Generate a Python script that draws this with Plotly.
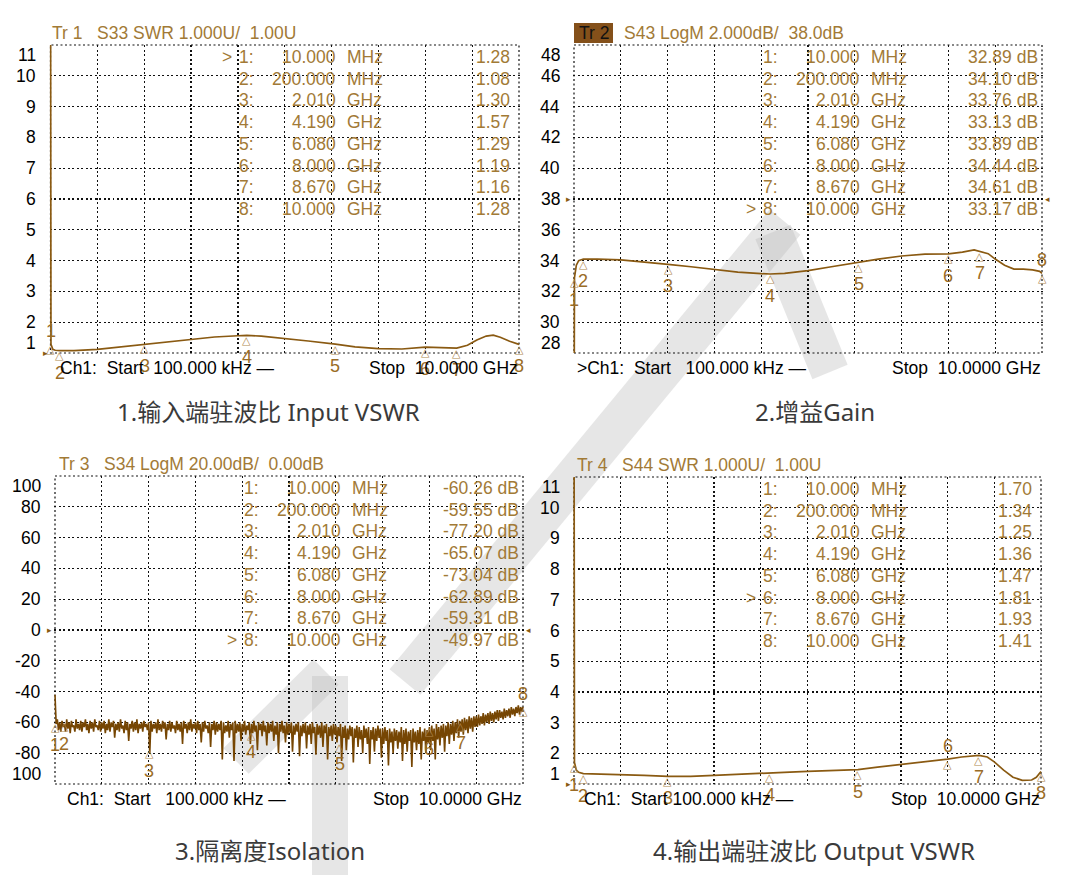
import numpy as np
import plotly.graph_objects as go

W, H = 1066, 875

# ---------------- data ----------------
marker_freq_ghz = [0.01, 0.2, 2.01, 4.19, 6.08, 8.0, 8.67, 10.0]
marker_freq_text = ["10.000", "200.000", "2.010", "4.190", "6.080", "8.000", "8.670", "10.000"]
marker_unit_text = ["MHz", "MHz", "GHz", "GHz", "GHz", "GHz", "GHz", "GHz"]

in_vswr_mk = [1.28, 1.08, 1.30, 1.57, 1.29, 1.19, 1.16, 1.28]
gain_mk = [32.89, 34.10, 33.76, 33.13, 33.89, 34.44, 34.61, 33.17]
iso_mk = [-60.26, -59.55, -77.20, -65.07, -73.04, -62.89, -59.31, -49.97]
out_vswr_mk = [1.70, 1.34, 1.25, 1.36, 1.47, 1.81, 1.93, 1.41]

in_vswr_freq = [0.0001, 0.005, 0.01, 0.05, 0.1, 0.2, 0.5, 1.0, 1.5, 2.01, 2.5, 3.0, 3.5, 4.0,
                4.19, 4.5, 5.0, 5.5, 6.08, 6.5, 7.0, 7.5, 8.0, 8.3, 8.67, 8.9, 9.1, 9.3,
                9.45, 9.6, 9.8, 10.0]
in_vswr = [15.0, 2.2, 1.28, 1.12, 1.09, 1.08, 1.08, 1.12, 1.20, 1.30, 1.38, 1.46, 1.52, 1.56,
           1.57, 1.55, 1.48, 1.39, 1.29, 1.20, 1.14, 1.13, 1.19, 1.18, 1.16, 1.25, 1.42, 1.55,
           1.58, 1.51, 1.38, 1.28]

gain_freq = [0.0001, 0.003, 0.006, 0.01, 0.05, 0.1, 0.2, 0.5, 1.0, 1.5, 2.01, 2.5, 3.0, 3.5,
             4.0, 4.19, 4.5, 5.0, 5.5, 6.08, 6.5, 7.0, 7.5, 8.0, 8.3, 8.55, 8.67, 8.85, 9.0,
             9.2, 9.4, 9.6, 9.8, 9.95, 10.0]
gain = [20.0, 30.0, 32.3, 32.89, 33.7, 34.0, 34.10, 34.10, 34.05, 33.93, 33.76, 33.60, 33.42,
        33.25, 33.15, 33.13, 33.17, 33.35, 33.60, 33.89, 34.10, 34.30, 34.42, 34.44, 34.55,
        34.70, 34.61, 34.45, 34.10, 33.70, 33.45, 33.45, 33.40, 33.30, 33.17]

# isolation sweep: 401 points, 100 kHz .. 10 GHz
iso_freq = np.linspace(0.0001, 10.0, 401)
iso = [
    # 0-1 GHz
    -42, -61, -58, -65, -60, -66, -59, -63, -61, -66, -58, -64, -60, -67, -59, -63, -62, -66, -58, -64,
    -61, -65, -59, -66, -60, -63, -58, -65, -61, -67, -59, -64, -60, -66, -58, -63, -62, -65, -59, -66,
    # 1-2 GHz
    -60, -64, -59, -67, -61, -65, -58, -66, -60, -63, -59, -70, -61, -65, -60, -66, -58, -64, -62, -67,
    -59, -65, -60, -72, -61, -64, -59, -66, -60, -65, -58, -67, -61, -64, -60, -66, -59, -63, -61, -65,
    # 2-3 GHz
    -60, -80, -59, -66, -61, -64, -60, -67, -58, -65, -61, -66, -59, -64, -60, -71, -61, -65, -59, -66,
    -60, -64, -62, -67, -59, -65, -61, -66, -60, -74, -59, -64, -61, -67, -60, -65, -58, -66, -61, -64,
    # 3-4 GHz
    -60, -67, -59, -65, -61, -73, -60, -66, -59, -64, -62, -67, -60, -76, -61, -65, -59, -68, -60, -66,
    -61, -65, -59, -84, -60, -67, -62, -66, -59, -70, -61, -65, -60, -85, -59, -67, -61, -66, -60, -72,
    # 4-5 GHz
    -61, -66, -59, -68, -62, -65, -60, -74, -61, -67, -59, -66, -62, -78, -60, -65, -61, -69, -59, -66,
    -62, -75, -60, -67, -61, -66, -59, -72, -62, -68, -60, -80, -61, -66, -59, -67, -62, -73, -60, -68,
    # 5-6 GHz
    -61, -67, -60, -79, -62, -68, -61, -66, -60, -82, -62, -69, -61, -67, -60, -77, -62, -68, -61, -74,
    -60, -67, -63, -81, -61, -68, -62, -70, -60, -76, -62, -67, -61, -84, -63, -69, -62, -72, -61, -68,
    # 6-7 GHz
    -62, -73, -63, -69, -61, -85, -63, -70, -62, -78, -64, -71, -62, -69, -63, -86, -64, -70, -62, -76,
    -63, -71, -65, -80, -62, -70, -64, -74, -63, -87, -65, -71, -63, -79, -64, -72, -62, -70, -64, -83,
    # 7-8 GHz
    -64, -74, -63, -72, -65, -88, -64, -73, -66, -80, -64, -72, -65, -77, -66, -73, -63, -85, -65, -74,
    -64, -79, -66, -72, -65, -89, -64, -73, -66, -78, -65, -74, -63, -84, -66, -72, -64, -80, -65, -73,
    # 8-9 GHz
    -63, -78, -62, -72, -64, -84, -61, -71, -63, -75, -62, -70, -61, -79, -62, -69, -60, -74, -61, -68,
    -59, -72, -60, -67, -58, -70, -59, -66, -58, -68, -57, -65, -58, -67, -56, -64, -57, -66, -56, -63,
    # 9-10 GHz
    -56, -63, -55, -62, -56, -61, -54, -62, -55, -60, -54, -61, -53, -59, -54, -60, -53, -58, -52, -59,
    -52, -57, -53, -58, -51, -57, -52, -56, -51, -57, -50, -55, -51, -56, -50, -54, -49, -55, -50, -53,
    -50,
]

out_vswr_freq = [0.0001, 0.004, 0.01, 0.05, 0.1, 0.2, 0.5, 1.0, 1.5, 2.01, 2.5, 3.0, 3.5, 4.19,
                 4.5, 5.0, 5.5, 6.08, 6.5, 7.0, 7.5, 8.0, 8.3, 8.67, 8.85, 9.0, 9.2, 9.4, 9.6,
                 9.8, 9.9, 10.0]
out_vswr = [15.0, 3.0, 1.70, 1.45, 1.38, 1.34, 1.33, 1.31, 1.28, 1.25, 1.25, 1.28, 1.32, 1.36,
            1.38, 1.41, 1.43, 1.47, 1.55, 1.63, 1.72, 1.81, 1.88, 1.93, 1.88, 1.72, 1.45, 1.22,
            1.12, 1.13, 1.22, 1.41]

swr_tick_text = ["11", "10", "9", "8", "7", "6", "5", "4", "3", "2", "1"]
gain_tick_text = ["48", "46", "44", "42", "40", "38", "36", "34", "32", "30", "28"]
iso_tick_text = ["100", "80", "60", "40", "20", "0", "-20", "-40", "-60", "-80", "100"]

headers = ["Tr 1   S33 SWR 1.000U/  1.00U", "S43 LogM 2.000dB/  38.0dB",
           "Tr 3   S34 LogM 20.00dB/  0.00dB", "Tr 4   S44 SWR 1.000U/  1.00U"]
captions = ["1.输入端驻波比 Input VSWR", "2.增益Gain", "3.隔离度Isolation", "4.输出端驻波比 Output VSWR"]
start_text = ["Ch1:  Start  100.000 kHz —", ">Ch1:  Start   100.000 kHz —",
              "Ch1:  Start   100.000 kHz —", "Ch1:  Start 100.000 kHz —"]
stop_text = "Stop  10.0000 GHz"

# ---------------- styling / layout ----------------
VNA_FONT = "Liberation Sans, Arial, sans-serif"
CJK_FONT = "Noto Sans, Noto Sans CJK SC, sans-serif"
TRACE = "#8a5a12"
TRACE_ISO = "#764603"
TXT = "#a27a36"
TRI = "#b08850"
GRID = "#111111"
DOT = "2px,2.5px"
FS = 17.5


def nb(s):
    return s.replace(" ", "\u00a0")


def px(x):
    return x / W


def py(y):
    return 1 - y / H


panels = [
    dict(box=(50.5, 45, 519, 353), yr=(1, 11), ticks=swr_tick_text, f=in_vswr_freq, v=in_vswr,
         mk=in_vswr_mk, db=False, color=TRACE, active=0, above=[0], hdr_x=50,
         start_x=58, cap=(268, 411), ref="bottom", refr=False),
    dict(box=(574, 45, 1042, 353), yr=(28, 48), ticks=gain_tick_text, f=gain_freq, v=gain,
         mk=gain_mk, db=True, color=TRACE, active=7, above=[7], hdr_x=622,
         start_x=575, cap=(815, 411), ref=5, refr=True),
    dict(box=(55, 476, 523, 784), yr=(-100, 100), ticks=iso_tick_text, f=iso_freq, v=iso,
         mk=iso_mk, db=True, color=TRACE_ISO, active=7, above=[7], hdr_x=57,
         start_x=65, cap=(270, 850), ref=5, refr=True),
    dict(box=(574, 477, 1041, 784), yr=(1, 11), ticks=swr_tick_text, f=out_vswr_freq, v=out_vswr,
         mk=out_vswr_mk, db=False, color=TRACE, active=5, above=[5], hdr_x=575,
         start_x=582, cap=(814, 850), ref="bottom", refr=False),
]

fig = go.Figure()
shapes = []
ann = []

# faint watermark strokes
wm = "rgba(190,190,190,0.38)"
for (x0, y0, x1, y1, w) in [(785, 222, 405, 682, 40), (773, 232, 830, 372, 38),
                            (330, 676, 330, 875, 36), (236, 761, 326, 672, 36)]:
    shapes.append(dict(type="line", xref="paper", yref="paper", x0=px(x0), y0=py(y0),
                       x1=px(x1), y1=py(y1), line=dict(color=wm, width=w), layer="below"))

for i, p in enumerate(panels, start=1):
    L, T, R, B = p["box"]
    xa = "x" if i == 1 else f"x{i}"
    ya = "y" if i == 1 else f"y{i}"
    pad = 10.0 / (R - L)
    y0, y1 = p["yr"]
    step = (y1 - y0) / 10.0
    fig.layout[("xaxis" if i == 1 else f"xaxis{i}")] = dict(
        domain=[(L - 1) / W, (R + 1) / W], range=[-pad, 10 + pad], anchor=ya,
        tickvals=list(range(1, 10)), showticklabels=False, ticks="", showgrid=True,
        gridcolor=GRID, griddash=DOT, gridwidth=1.2, zeroline=False, showline=False,
        fixedrange=True)
    fig.layout[("yaxis" if i == 1 else f"yaxis{i}")] = dict(
        domain=[py(B), py(T)], range=[y0, y1], anchor=xa,
        tickvals=[y0 + step * k for k in range(1, 10)], showticklabels=False, ticks="",
        showgrid=True, gridcolor=GRID, griddash=DOT, gridwidth=1.2, zeroline=False,
        showline=False, fixedrange=True)

    # frame
    shapes.append(dict(type="rect", xref="paper", yref="paper", x0=px(L), x1=px(R),
                       y0=py(B), y1=py(T), line=dict(color=GRID, width=1.2, dash=DOT),
                       fillcolor="rgba(0,0,0,0)", layer="below"))

    # trace
    fig.add_trace(go.Scatter(x=list(p["f"]), y=p["v"], mode="lines",
                             line=dict(color=p["color"], width=1.7 if i != 3 else 1.6),
                             xaxis=xa, yaxis=ya, hoverinfo="skip", showlegend=False))

    # tick labels
    for k, t in enumerate(p["ticks"]):
        yy = T + k * (B - T) / 10.0
        if k == 0:
            yy += 10
        elif k == 10:
            yy -= 10
        ann.append(dict(text=t, x=px(L - 12.5), y=py(yy), xref="paper", yref="paper",
                        xanchor="right", yanchor="middle", showarrow=False,
                        font=dict(family=VNA_FONT, size=FS, color="#000000")))

    # header
    ann.append(dict(text=nb(headers[i - 1]), x=px(p["hdr_x"]), y=py(T - 12), xref="paper",
                    yref="paper", xanchor="left", yanchor="middle", showarrow=False,
                    font=dict(family=VNA_FONT, size=FS, color=TXT)))

    # marker table
    for r in range(8):
        yy = T + 12 + r * 21.7
        val = f"{p['mk'][r]:.2f}" + (" dB" if p["db"] else "")
        vr = R - (2 if p["db"] else 7)
        cells = [(f"{r + 1}:", L + 186.5, "left"), (marker_freq_text[r], L + 287.5, "right"),
                 (marker_unit_text[r], L + 294.5, "left"), (val, vr, "right")]
        if r == p["active"]:
            cells.append((">", L + 184, "right"))
        for txt, xx, anc in cells:
            ann.append(dict(text=nb(txt), x=px(xx), y=py(yy), xref="paper", yref="paper",
                            xanchor=anc, yanchor="middle", showarrow=False,
                            font=dict(family=VNA_FONT, size=FS, color=TXT)))

    # markers on trace
    for r in range(8):
        ann.append(dict(text="△", x=marker_freq_ghz[r], y=p["mk"][r], xref=xa, yref=ya,
                        yshift=-5, showarrow=False, xanchor="center", yanchor="middle",
                        font=dict(family="DejaVu Sans", size=11, color=TRI)))
        ann.append(dict(text=str(r + 1), x=marker_freq_ghz[r], y=p["mk"][r], xref=xa, yref=ya,
                        yshift=(13 if r in p["above"] else -22), showarrow=False,
                        xanchor="center", yanchor="middle",
                        font=dict(family=VNA_FONT, size=18, color="#9a6c26")))

    # reference level arrows
    ry = B if p["ref"] == "bottom" else T + p["ref"] * (B - T) / 10.0
    ann.append(dict(text="▸", x=px(L - 1), y=py(ry), xref="paper", yref="paper",
                    xanchor="right", yanchor="middle", showarrow=False,
                    font=dict(family="DejaVu Sans", size=9, color=TRACE)))
    if p["refr"]:
        ann.append(dict(text="◂", x=px(R + 1), y=py(ry), xref="paper", yref="paper",
                        xanchor="left", yanchor="middle", showarrow=False,
                        font=dict(family="DejaVu Sans", size=9, color=TRACE)))

    # bottom sweep text
    ann.append(dict(text=nb(start_text[i - 1]), x=px(p["start_x"]), y=py(B + 15), xref="paper",
                    yref="paper", xanchor="left", yanchor="middle", showarrow=False,
                    font=dict(family=VNA_FONT, size=FS, color="#000000")))
    ann.append(dict(text=nb(stop_text), x=px(R + 1), y=py(B + 15), xref="paper",
                    yref="paper", xanchor="right", yanchor="middle", showarrow=False,
                    font=dict(family=VNA_FONT, size=FS, color="#000000")))

    # caption
    cx, cy = p["cap"]
    ann.append(dict(text=captions[i - 1], x=px(cx), y=py(cy), xref="paper", yref="paper",
                    xanchor="center", yanchor="middle", showarrow=False,
                    font=dict(family=CJK_FONT, size=24, color="#3a3a3a")))

# "Tr 2" highlighted box
shapes.append(dict(type="rect", xref="paper", yref="paper", x0=px(574), x1=px(613),
                   y0=py(43), y1=py(23), fillcolor="#84501a", line=dict(width=0)))
ann.append(dict(text=nb("Tr 2"), x=px(577), y=py(33), xref="paper", yref="paper",
                xanchor="left", yanchor="middle", showarrow=False,
                font=dict(family=VNA_FONT, size=FS, color="#111111")))

fig.update_layout(width=W, height=H, margin=dict(l=0, r=0, t=0, b=0),
                  paper_bgcolor="white", plot_bgcolor="rgba(0,0,0,0)",
                  shapes=shapes, annotations=ann, showlegend=False, template="none")

fig.write_html("out.html", config={"displayModeBar": False, "staticPlot": True},
               post_script="document.body.style.margin='0px';document.body.style.overflow='hidden';")
